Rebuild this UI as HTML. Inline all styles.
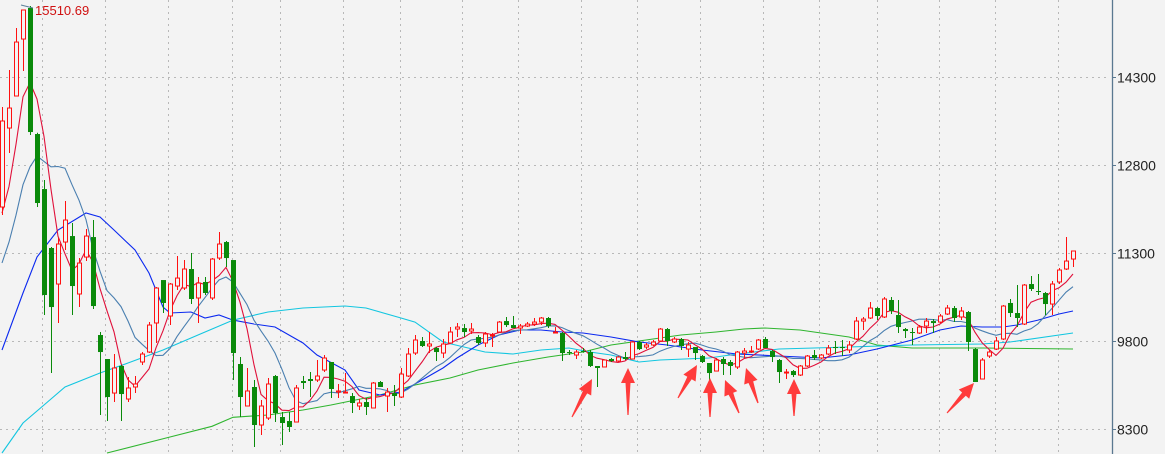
<!DOCTYPE html>
<html><head><meta charset="utf-8"><style>
html,body{margin:0;padding:0;background:#f3f3f3;}
svg{display:block;}
text{font-family:"Liberation Sans",sans-serif;}
</style></head><body>
<svg id="chart" width="1165" height="454" viewBox="0 0 1165 454" xmlns="http://www.w3.org/2000/svg">
<rect x="0" y="0" width="1165" height="454" fill="#f3f3f3"/>
<g id="grid"></g>
<g id="ma"></g>
<g id="candles"></g>
<g id="axis"></g>
<g id="arrows"></g>
<line x1="21" y1="5" x2="33" y2="8" stroke="#5a7f9a" stroke-width="1"/>
<text x="35" y="15" font-size="13" fill="#d01010">15510.69</text>
</svg>
<script>
const openP=[12084,13430,13976,14947,15476,13328,12390,11385,10771,11487,11589,10601,11231,11572,9902,9493,8913,9374,8811,9016,9442,9612,10107,10839,10226,10737,10703,11027,10533,10806,10533,11214,11487,11180,9408,8692,9016,8368,8487,9203,8504,8436,8419,9118,9152,9135,9305,9442,8930,8913,8862,8692,8760,8658,9101,8862,8913,8845,9203,9595,9800,9715,9681,9595,9766,10004,10021,9970,9868,9766,9885,9953,10140,10072,10021,10055,10089,10123,10192,9936,9936,9612,9561,9629,9612,9374,9357,9493,9459,9527,9493,9783,9697,9732,9800,10004,9783,9834,9663,9697,9544,9425,9288,9493,9442,9357,9595,9612,9663,9834,9629,9476,9254,9288,9220,9374,9561,9510,9578,9697,9697,9646,9834,10140,10192,10362,10209,10499,10243,10004,9953,9936,10055,10140,10123,10260,10362,10209,10294,9663,9152,9544,9663,9834,10448,10277,10089,10771,10652,10618,10430,10806,11027,11197];
const highP=[13788,14419,15135,15400,15511,13350,12544,11402,11555,12186,11811,11214,11709,11862,9953,9493,9578,9391,9186,9203,9612,10123,10720,10839,10788,11248,11180,11300,10891,10891,11214,11658,11504,11180,9527,9340,9135,8794,9169,9220,8590,8590,9050,9203,9271,9476,9561,9442,9067,9254,8913,8811,8828,9101,9118,8999,9050,9340,9681,9902,9868,9953,9697,9834,10038,10106,10089,10106,9902,9953,9936,10140,10209,10226,10089,10123,10192,10209,10209,10038,9953,9646,9646,9680,9646,9374,9476,9510,9544,9612,9800,9800,9766,9817,10021,10021,9868,9851,9783,9697,9561,9425,9510,9527,9476,9629,9681,9715,9834,9868,9646,9493,9323,9305,9391,9561,9646,9578,9732,9800,9817,9800,10209,10209,10464,10379,10550,10550,10499,10021,10021,10072,10192,10174,10260,10413,10396,10379,10311,9681,9510,9646,9868,10413,10516,10754,10771,10908,10942,10635,10822,11044,11572,11334];
const lowP=[11947,13004,13976,14402,13311,12084,10243,9254,10106,11351,10243,10379,11163,10345,8539,8436,8760,8436,8760,8913,9391,9595,9766,10277,10072,10669,10669,10430,10106,10584,10499,11180,11061,9135,8504,8692,7993,8198,8453,8419,8027,8249,8419,8982,8845,9101,9271,8828,8828,8913,8572,8624,8539,8658,9016,8590,8692,8828,9186,9561,9697,9595,9459,9510,9766,9868,9868,9919,9732,9697,9697,9953,10038,10021,9919,10038,10055,10072,10021,9936,9459,9561,9493,9600,9357,9016,9357,9442,9442,9476,9493,9646,9663,9715,9783,9715,9766,9646,9527,9476,9425,9101,9288,9220,9220,9323,9510,9595,9646,9680,9442,9084,9152,9186,9203,9357,9476,9493,9561,9578,9544,9595,9817,9987,10175,10157,10192,10260,9936,9851,9732,9919,9936,9936,10106,10243,10123,10157,9629,9101,9152,9510,9646,9817,10209,10038,10072,10652,10584,10243,10243,10771,11010,11061];
const closeP=[13550,13771,14896,15442,13362,12152,10584,10379,11453,11862,10737,11129,11589,10396,9612,8845,9340,8896,8999,9067,9578,10072,10703,10448,10771,10873,11027,10516,10788,10618,11197,11453,11214,9595,8845,8948,8368,8692,9067,8572,8402,8334,8999,9084,9118,9203,9510,8982,8948,8930,8743,8743,8675,9084,9016,8930,8862,9237,9578,9817,9715,9749,9612,9749,9953,10038,9953,10004,9766,9919,9902,10123,10072,10021,10055,10089,10123,10192,10055,9953,9595,9595,9612,9612,9374,9340,9476,9459,9527,9493,9783,9663,9732,9783,10004,9800,9834,9715,9732,9595,9442,9254,9476,9408,9374,9612,9629,9629,9817,9680,9527,9271,9271,9220,9374,9544,9510,9561,9680,9680,9680,9732,10140,10174,10362,10226,10516,10311,10038,9970,9936,10038,10140,10106,10226,10362,10192,10311,9783,9101,9476,9612,9800,10396,10277,10192,10754,10686,10635,10430,10771,11010,11163,11334];
const priorCloses=[10200,10300,10250,10340,10300,11500,11300,11400,12150];
const ma20Idx=[0,3,5,8,12,14,16,19,21,22,23,24,27,29,31,33,36,39,43,45,49,51,54,57,60,63,65,68,71,74,77,80,83,87,91,95,100,105,111,117,121,125,130,134,137,140,143,145,148,151,153];
const ma20Val=[9646,10618,11231,11692,11981,11913,11692,11351,10959,10669,10379,10277,10294,10192,10243,10157,10089,10038,9766,9561,9305,8965,8879,8930,9135,9340,9510,9732,9902,9987,9987,9953,9936,9868,9783,9732,9646,9578,9544,9510,9561,9663,9817,9987,10055,10038,10038,10072,10157,10260,10311];
const ma60Idx=[0,3,6,9,14,18,23,28,33,38,43,49,52,57,59,63,66,69,73,77,81,84,87,91,94,101,104,111,121,130,140,144,153];
const ma60Val=[7891,8402,8709,9016,9254,9425,9646,9902,10157,10294,10362,10396,10362,10192,10123,9783,9697,9612,9578,9646,9680,9612,9561,9442,9476,9510,9561,9663,9697,9732,9749,9783,9936];
const ma120Idx=[15,24,30,33,38,43,47,54,59,64,68,73,78,83,87,92,97,102,106,109,114,121,125,130,140,153];
const ma120Val=[7891,8164,8346,8500,8539,8624,8709,8879,9050,9169,9305,9425,9527,9612,9731,9817,9902,9953,10004,10021,9987,9868,9731,9681,9681,9663];
const tickVals=[14300,12800,11300,9800,8300];
const gridX=[42,105,168,232,280,343,400,462,518,581,637,700,763,819,877,939,995,1058];
const arrowSpecs=[[572,417,592,379],[628,415,628,368],[678,398,697,365],[710,417,710,378],[739,413,725,380],[758,403,746,368],[794,416,794,379],[947,413,974,383]];

const NS="http://www.w3.org/2000/svg";
const yOf=v=>429-(v-8300)*88/1500;
const xOf=i=>2+i*7;
function mk(tag,parent,attrs){const e=document.createElementNS(NS,tag);for(const k in attrs)e.setAttribute(k,attrs[k]);parent.appendChild(e);return e;}
const G=document.getElementById('grid'),M=document.getElementById('ma'),C=document.getElementById('candles'),A=document.getElementById('axis'),AR=document.getElementById('arrows');

tickVals.forEach(v=>{const y=Math.round(yOf(v))+0.5;
 const l=mk('line',G,{x1:0,x2:1110,y1:y,y2:y,stroke:'#b8b8b8','stroke-dasharray':'2,4','stroke-width':1});
 
 
 const t=mk('line',A,{x1:1112,x2:1116,y1:y,y2:y,stroke:'#5a7890'});
 
 
 const tx=mk('text',A,{x:1117,y:y+5,'font-size':14,fill:'#222'});tx.textContent=v;
 
 
});
gridX.forEach(x=>{const l=mk('line',G,{x1:x+0.5,x2:x+0.5,y1:0,y2:454,stroke:'#b8b8b8','stroke-dasharray':'2,4'});
 
 
});
const ax=mk('line',A,{x1:1112.5,x2:1112.5,y1:0,y2:454,stroke:'#5a7890','stroke-width':1.3});



function smaLine(n){const all=priorCloses.concat(closeP);const off=priorCloses.length;const pts=[];
 for(let i=0;i<closeP.length;i++){const j=i+off;const s=Math.max(0,j-n+1);let sum=0;for(let k=s;k<=j;k++)sum+=all[k];pts.push(xOf(i)+','+yOf(sum/(j-s+1)).toFixed(1));}return pts.join(' ');}
function sampled(idx,val){return idx.map((i,k)=>xOf(i)+','+yOf(val[k]).toFixed(1)).join(' ');}
const lines=[['ma120-line',sampled(ma120Idx,ma120Val),'#2fb52f'],['ma60-line',sampled(ma60Idx,ma60Val),'#12c6e0'],['ma20-line',sampled(ma20Idx,ma20Val),'#0a28f0'],['ma10-line',smaLine(10),'#4a7fb0'],['ma5-line',smaLine(5),'#e0103a']];
lines.forEach(([n,p,c])=>{const pl=mk('polyline',M,{points:p,fill:'none',stroke:c,'stroke-width':1.1});
 
 
});

for(let i=0;i<closeP.length;i++){const o=openP[i],c=closeP[i],h=highP[i],l=lowP[i];const up=c>=o;const col=up?'#ff1010':'#0a8a0a';
 const x=Math.round(xOf(i))+0.5;const g=mk('g',C,{});
 
 
 const top=yOf(Math.max(o,c)),bot=yOf(Math.min(o,c));
 mk('line',g,{x1:x,x2:x,y1:yOf(h),y2:top,stroke:col});
 mk('line',g,{x1:x,x2:x,y1:bot,y2:yOf(l),stroke:col});
 if(up){mk('rect',g,{x:x-2,y:top,width:4,height:Math.max(1,bot-top),fill:'#f3f3f3',stroke:col,'stroke-width':1});}
 else{mk('rect',g,{x:x-2.5,y:top,width:5,height:Math.max(1,bot-top),fill:col});}
}

arrowSpecs.forEach(([tx,ty,hx,hy])=>{const dx=hx-tx,dy=hy-ty,L=Math.hypot(dx,dy),ux=dx/L,uy=dy/L,px=-uy,py=ux;
 const hl=15,hw=7,sw=2.5;const bx=hx-ux*hl,by=hy-uy*hl;
 const pts=[[hx,hy],[bx+px*hw,by+py*hw],[bx+px*sw,by+py*sw],[tx+px*0.6,ty+py*0.6],[tx-px*0.6,ty-py*0.6],[bx-px*sw,by-py*sw],[bx-px*hw,by-py*hw]];
 const pg=mk('polygon',AR,{points:pts.map(p=>p[0].toFixed(1)+','+p[1].toFixed(1)).join(' '),fill:'#ff3b3b'});
 
 
});
</script>
</body></html>
